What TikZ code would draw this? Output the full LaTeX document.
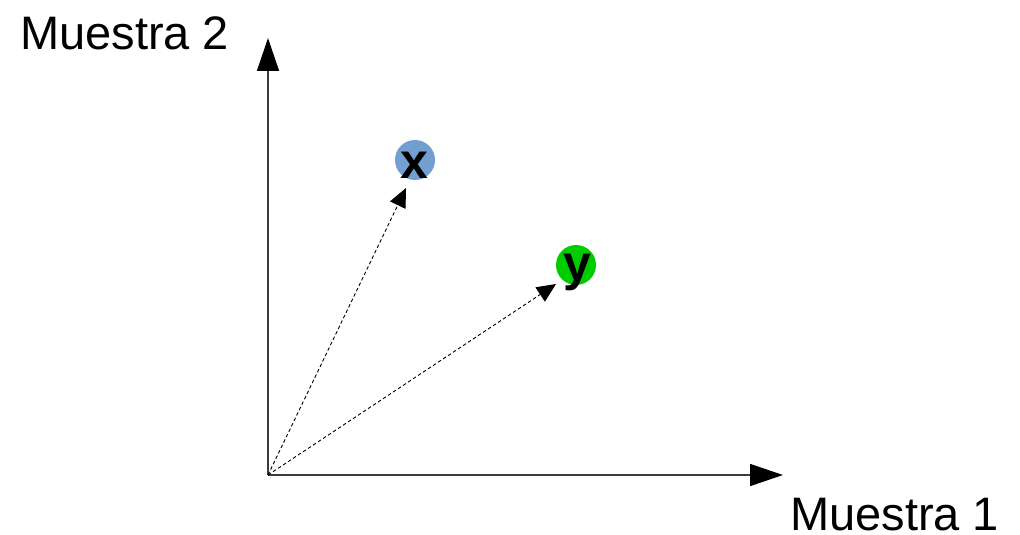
\documentclass[tikz,border=0pt]{standalone}
\usepackage{fontspec}
\setmainfont{Liberation Sans}
\usetikzlibrary{arrows.meta}
\definecolor{ptblue}{HTML}{729FCF}
\definecolor{ptgreen}{HTML}{00CC00}
\definecolor{axisgray}{HTML}{3C3C3C}
\begin{document}
\begin{tikzpicture}[x=1pt,y=-1pt,
  axis/.style={draw=axisgray,line width=1.5pt,-{Triangle[length=33pt,width=22pt,fill=black,color=black]}},
  vec/.style={draw=black,line width=0.9pt,dash pattern=on 3.5pt off 2.5pt,-{Triangle[length=19pt,width=17pt,fill=black]}},
  lbl/.style={font=\fontsize{47}{56}\selectfont,inner sep=0pt,text depth=0pt},
  dot/.style={circle,minimum size=40pt,inner sep=0pt},
  letter/.style={font=\fontsize{50}{60}\selectfont\bfseries,inner sep=0pt,anchor=base}]
\useasboundingbox (0,0) rectangle (1020,535);
\coordinate (O) at (268,475);
\coordinate (Ytip) at (268,38);
\coordinate (Xtip) at (783,475);
\draw[axis] (O) -- (Ytip);
\draw[axis] (O) -- (Xtip);
\node[lbl,anchor=base west] (l2) at (20,49) {Muestra 2};
\node[lbl,anchor=base west] (l1) at (790,530) {Muestra 1};
\node[dot,fill=ptblue] (cx) at (415,160) {};
\node[dot,fill=ptgreen] (cy) at (576,265) {};
\node[letter] (tx) at (414,178) {x};
\node[letter] (ty) at (577,280) {y};
\coordinate (ax) at (406,188);
\coordinate (ay) at (556,284);
\draw[vec] (O) -- (ax);
\draw[vec] (O) -- (ay);
\end{tikzpicture}
\end{document}
